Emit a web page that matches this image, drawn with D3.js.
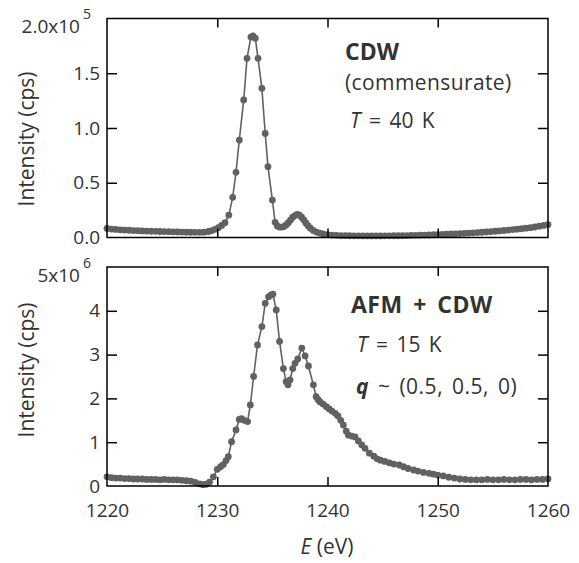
<!DOCTYPE html>
<html><head><meta charset="utf-8">
<script src="https://cdn.jsdelivr.net/npm/d3@7"></script>
<style>body{margin:0;background:#fff} text{font-family:"Open Sans","Noto Sans",sans-serif}</style>
</head><body><svg id="c" width="579" height="563"></svg>
<script>
// Top panel: CDW (commensurate), T = 40 K ; intensity in units of 1e5 cps
const cdwEnergy = [1220.0,1220.4,1220.8,1221.2,1221.6,1222.0,1222.4,1222.8,1223.2,1223.6,1224.0,1224.4,1224.8,1225.2,1225.6,1226.0,1226.4,1226.8,1227.2,1227.6,1228.0,1228.4,1228.8,1229.2,1229.5,1229.8,1230.1,1230.4,1230.7,1231.05,1231.4,1231.7,1232.0,1232.4,1232.7,1233.05,1233.25,1233.45,1233.7,1234.05,1234.35,1234.6,1235.0,1235.25,1235.45,1235.65,1235.85,1236.05,1236.25,1236.45,1236.65,1236.85,1237.05,1237.25,1237.45,1237.65,1237.85,1238.05,1238.25,1238.45,1238.7,1239.0,1239.3,1239.6,1240.0,1240.4,1240.8,1241.2,1241.6,1242.0,1242.4,1242.8,1243.2,1243.6,1244.0,1244.4,1244.8,1245.2,1245.6,1246.0,1246.4,1246.8,1247.2,1247.6,1248.0,1248.4,1248.8,1249.2,1249.6,1250.0,1250.4,1250.8,1251.2,1251.6,1252.0,1252.4,1252.8,1253.2,1253.6,1254.0,1254.4,1254.8,1255.2,1255.6,1256.0,1256.4,1256.8,1257.2,1257.6,1258.0,1258.4,1258.8,1259.2,1259.6,1260.0];
const cdwIntensity = [0.082,0.077,0.074,0.070,0.068,0.066,0.063,0.062,0.060,0.059,0.057,0.056,0.055,0.054,0.053,0.052,0.051,0.050,0.049,0.048,0.047,0.047,0.049,0.055,0.063,0.075,0.090,0.110,0.135,0.205,0.367,0.595,0.890,1.256,1.636,1.830,1.840,1.820,1.636,1.362,0.950,0.647,0.342,0.139,0.105,0.095,0.095,0.100,0.115,0.135,0.160,0.185,0.200,0.210,0.205,0.185,0.160,0.130,0.105,0.085,0.065,0.050,0.040,0.032,0.026,0.022,0.020,0.018,0.017,0.016,0.015,0.015,0.014,0.014,0.014,0.014,0.014,0.015,0.015,0.016,0.016,0.017,0.018,0.019,0.020,0.021,0.022,0.023,0.025,0.026,0.028,0.030,0.032,0.034,0.036,0.038,0.040,0.043,0.045,0.048,0.051,0.054,0.057,0.060,0.064,0.068,0.072,0.076,0.080,0.085,0.090,0.096,0.103,0.110,0.118];

// Bottom panel: AFM + CDW, T = 15 K ; intensity in units of 1e6 cps
const afmEnergy = [1220.0,1220.4,1220.8,1221.2,1221.6,1222.0,1222.4,1222.8,1223.2,1223.6,1224.0,1224.4,1224.8,1225.2,1225.6,1226.0,1226.4,1226.8,1227.2,1227.6,1228.0,1228.4,1228.7,1229.0,1229.3,1229.65,1230.0,1230.3,1230.55,1230.8,1231.0,1231.3,1231.7,1232.0,1232.2,1232.45,1232.75,1233.0,1233.3,1233.65,1234.05,1234.35,1234.65,1234.85,1235.05,1235.35,1235.65,1236.0,1236.25,1236.42,1236.6,1236.85,1237.05,1237.3,1237.67,1237.97,1238.27,1238.72,1238.97,1239.15,1239.33,1239.6,1239.9,1240.15,1240.4,1240.7,1240.95,1241.2,1241.44,1241.7,1241.9,1242.2,1242.5,1242.8,1243.1,1243.4,1243.8,1244.2,1244.5,1244.8,1245.2,1245.6,1246.0,1246.5,1246.9,1247.3,1247.8,1248.2,1248.7,1249.2,1249.6,1250.0,1250.5,1251.0,1251.5,1252.0,1252.5,1253.0,1253.5,1254.0,1254.5,1255.0,1255.5,1256.0,1256.5,1257.0,1257.5,1258.0,1258.5,1259.0,1259.5,1260.0];
const afmIntensity = [0.21,0.19,0.18,0.18,0.17,0.17,0.16,0.16,0.16,0.15,0.15,0.15,0.14,0.15,0.14,0.14,0.14,0.13,0.12,0.11,0.08,0.05,0.03,0.04,0.09,0.21,0.38,0.44,0.49,0.58,0.67,1.01,1.28,1.52,1.54,1.50,1.47,1.85,2.50,3.22,3.64,4.17,4.32,4.36,4.38,4.02,3.30,2.68,2.38,2.31,2.42,2.68,2.80,2.90,3.15,2.97,2.74,2.31,2.04,1.97,1.92,1.87,1.81,1.76,1.71,1.66,1.60,1.50,1.39,1.25,1.16,1.14,1.12,1.03,0.94,0.86,0.75,0.68,0.62,0.59,0.56,0.53,0.50,0.48,0.44,0.40,0.365,0.34,0.31,0.29,0.27,0.25,0.23,0.20,0.18,0.16,0.15,0.14,0.14,0.14,0.15,0.14,0.14,0.15,0.14,0.14,0.15,0.15,0.14,0.15,0.15,0.16];

const xTicks = [1220, 1230, 1240, 1250, 1260];
const xInnerTicks = [1230, 1240, 1250];
const topYTicks = [0, 0.5, 1.0, 1.5, 2.0];
const topYLabels = ["0.0", "0.5", "1.0", "1.5", "2.0x10"];
const topYExp = "5";
const botYTicks = [0, 1, 2, 3, 4, 5];
const botYLabels = ["0", "1", "2", "3", "4", "5x10"];
const botYExp = "6";

const svg = d3.select("#c");
const L = 107, R = 548;
const x = d3.scaleLinear().domain([1220, 1260]).range([L, R]);
const dataColor = "#616161", textColor = "#333";
const tickFont = 19;

function panel(cfg) {
  const y = d3.scaleLinear().domain(cfg.yDomain).range([cfg.bottom, cfg.top]);
  const g = svg.append("g");
  const pts = cfg.energy.map((e, i) => [e, cfg.intensity[i]]);
  g.append("path").datum(pts)
    .attr("fill", "none").attr("stroke", dataColor).attr("stroke-width", 1.6)
    .attr("d", d3.line().x(d => x(d[0])).y(d => y(d[1])));
  g.selectAll("circle").data(pts).join("circle")
    .attr("cx", d => x(d[0])).attr("cy", d => y(d[1])).attr("r", 3.4)
    .attr("fill", dataColor);

  const inner = cfg.yTicks.slice(1, -1);
  const la = g.append("g").attr("transform", `translate(${L},0)`)
    .call(d3.axisLeft(y).tickValues(cfg.yTicks).tickSize(-10).tickPadding(7)
      .tickFormat((d, i) => cfg.yLabels[i]));
  la.select(".domain").remove();
  la.selectAll(".tick line").filter(d => !inner.includes(d)).remove();
  la.selectAll(".tick line").attr("stroke", "#000").attr("stroke-width", 1.5);
  la.selectAll("text").attr("fill", textColor).attr("font-size", tickFont);
  const topTick = la.selectAll(".tick").filter(d => d === cfg.yTicks[cfg.yTicks.length - 1]);
  topTick.select("text").attr("dy", "0.32em").attr("y", 8).attr("x", -16)
    .append("tspan").text(cfg.exp).attr("dx", 3).attr("dy", -14).attr("font-size", 14);
  const ra = g.append("g").attr("transform", `translate(${R},0)`)
    .call(d3.axisRight(y).tickValues(inner).tickSize(-10).tickFormat(""));
  ra.select(".domain").remove();
  ra.selectAll(".tick line").attr("stroke", "#000").attr("stroke-width", 1.5);
  const ta = g.append("g").attr("transform", `translate(0,${cfg.top})`)
    .call(d3.axisTop(x).tickValues(xInnerTicks).tickSize(-9).tickFormat(""));
  ta.select(".domain").remove();
  ta.selectAll(".tick line").attr("stroke", "#000").attr("stroke-width", 1.5);
  const ba = g.append("g").attr("transform", `translate(0,${cfg.bottom})`)
    .call(d3.axisBottom(x).tickValues(cfg.xLabels ? xTicks : xInnerTicks).tickSize(-9).tickPadding(18)
      .tickFormat(cfg.xLabels ? d3.format("d") : ""));
  ba.select(".domain").remove();
  ba.selectAll(".tick line").filter(d => !xInnerTicks.includes(d)).remove();
  ba.selectAll(".tick line").attr("stroke", "#000").attr("stroke-width", 1.5);
  ba.selectAll("text").attr("fill", textColor).attr("font-size", tickFont);
  g.append("rect").attr("x", L).attr("y", cfg.top).attr("width", R - L).attr("height", cfg.bottom - cfg.top)
    .attr("fill", "none").attr("stroke", "#000").attr("stroke-width", 1.5);
  g.append("text").attr("transform", `translate(27,${cfg.labelY}) rotate(-90)`)
    .attr("text-anchor", "middle").attr("dy", "0.35em").attr("font-size", 21).attr("fill", textColor)
    .text("Intensity (cps)");
  return g;
}

const gTop = panel({energy: cdwEnergy, intensity: cdwIntensity, yDomain: [0, 2.0], top: 18.5, bottom: 237.5,
  yTicks: topYTicks, yLabels: topYLabels, exp: topYExp, labelY: 139, xLabels: false});
const gBot = panel({energy: afmEnergy, intensity: afmIntensity, yDomain: [0, 5], top: 267, bottom: 486,
  yTicks: botYTicks, yLabels: botYLabels, exp: botYExp, labelY: 370, xLabels: true});

gTop.append("text").attr("x", 345).attr("y", 60).attr("font-size", 23).attr("font-weight", "bold").attr("fill", textColor).text("CDW");
gTop.append("text").attr("x", 345).attr("y", 90).attr("font-size", 21).attr("letter-spacing", 0.4).attr("fill", textColor).text("(commensurate)");
const t1 = gTop.append("text").attr("x", 350).attr("y", 128).attr("font-size", 21).attr("word-spacing", 3).attr("fill", textColor);
t1.append("tspan").attr("font-style", "italic").text("T");
t1.append("tspan").text(" = 40 K");

gBot.append("text").attr("x", 351).attr("y", 313).attr("font-size", 23).attr("font-weight", "bold").attr("word-spacing", 4).attr("letter-spacing", 0.5).attr("fill", textColor).text("AFM + CDW");
const t2 = gBot.append("text").attr("x", 357).attr("y", 352).attr("font-size", 21).attr("word-spacing", 3).attr("fill", textColor);
t2.append("tspan").attr("font-style", "italic").text("T");
t2.append("tspan").text(" = 15 K");
const t3 = gBot.append("text").attr("x", 356).attr("y", 394).attr("font-size", 21).attr("word-spacing", 3).attr("letter-spacing", 0.5).attr("fill", textColor);
t3.append("tspan").attr("font-style", "italic").attr("font-weight", "bold").text("q");
t3.append("tspan").text(" ~ (0.5, 0.5, 0)");

const xl = svg.append("text").attr("x", 327).attr("y", 554).attr("text-anchor", "middle").attr("font-size", 21).attr("fill", textColor);
xl.append("tspan").attr("font-style", "italic").text("E");
xl.append("tspan").text(" (eV)");
</script></body></html>
